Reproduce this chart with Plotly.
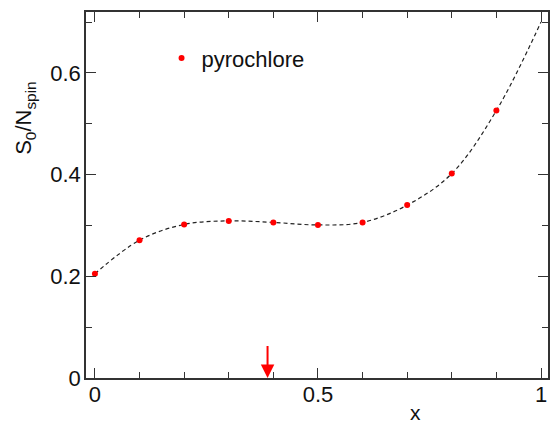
import plotly.graph_objects as go

# Residual entropy per spin versus composition x
x_vals = [0.0, 0.1, 0.2, 0.3, 0.4, 0.5, 0.6, 0.7, 0.8, 0.9]
s_vals = [0.205, 0.271, 0.302, 0.309, 0.306, 0.301, 0.306, 0.340, 0.402, 0.526]

# Smooth guide curve through the points, continued to x = 1
curve_x = [0.0, 0.1, 0.2, 0.3, 0.4, 0.5, 0.6, 0.7, 0.8, 0.9, 1.0]
curve_y = [0.205, 0.271, 0.302, 0.309, 0.306, 0.301, 0.306, 0.340, 0.402, 0.526, 0.700]

arrow_x = 0.387
series_name = "pyrochlore"

FONT = "Liberation Sans, Arial, Helvetica, sans-serif"

fig = go.Figure()

fig.add_trace(go.Scatter(
    x=curve_x, y=curve_y, mode="lines",
    line=dict(color="#222222", width=1.2, dash="4px,3px", shape="spline", smoothing=1.0),
    showlegend=False, hoverinfo="skip",
))

fig.add_trace(go.Scatter(
    x=x_vals, y=s_vals, mode="markers", name=series_name,
    marker=dict(color="#ff0000", size=6, line=dict(width=0)),
))

axis_common = dict(
    showgrid=False, zeroline=False,
    showline=True, linecolor="#333333", linewidth=1.5, mirror="ticks",
    ticks="inside", ticklen=10, tickwidth=1.3, tickcolor="#333333",
    tickfont=dict(family=FONT, size=22, color="#111111"),
)

fig.update_xaxes(
    range=[-0.02, 1.0157],
    tickvals=[0, 0.5, 1], ticktext=["0", "0.5", "1"],
    minor=dict(dtick=0.1, tick0=0, ticks="inside", ticklen=6, tickwidth=1.3, tickcolor="#333333"),
    ticklabelstandoff=-4,
    **axis_common,
)
fig.update_yaxes(
    range=[0, 0.7198],
    tickvals=[0, 0.2, 0.4, 0.6], ticktext=["0", "0.2", "0.4", "0.6"],
    minor=dict(dtick=0.1, tick0=0, ticks="inside", ticklen=6, tickwidth=1.3, tickcolor="#333333"),
    ticklabelstandoff=-1,
    **axis_common,
)

# Axis titles
fig.add_annotation(
    text="x", xref="paper", yref="paper", x=0.7127, y=0, yshift=-34,
    showarrow=False, font=dict(family=FONT, size=21, color="#111111"),
    xanchor="center", yanchor="middle",
)
fig.add_annotation(
    text="S<sub>0</sub>/N<sub>spin</sub>", xref="paper", yref="paper",
    x=0, xshift=-61, y=0.708, textangle=-90,
    showarrow=False, font=dict(family=FONT, size=22, color="#111111"),
    xanchor="center", yanchor="middle",
)

# Marker arrow on the composition axis
fig.add_annotation(
    x=arrow_x, y=0, ax=arrow_x, ay=0.066, xref="x", yref="y", axref="x", ayref="y",
    showarrow=True, arrowhead=2, arrowsize=1.35, arrowwidth=2, arrowcolor="#ff0000",
    standoff=0, text="",
)

fig.update_layout(
    width=550, height=423,
    margin=dict(l=86, r=0, t=12, b=45),
    paper_bgcolor="white", plot_bgcolor="white",
    showlegend=True,
    legend=dict(
        x=0.1635, y=0.874, xanchor="left", yanchor="middle",
        bgcolor="rgba(0,0,0,0)", borderwidth=0,
        font=dict(family=FONT, size=22, color="#111111"),
        itemsizing="trace",
    ),
)

fig.write_html("out.html")
